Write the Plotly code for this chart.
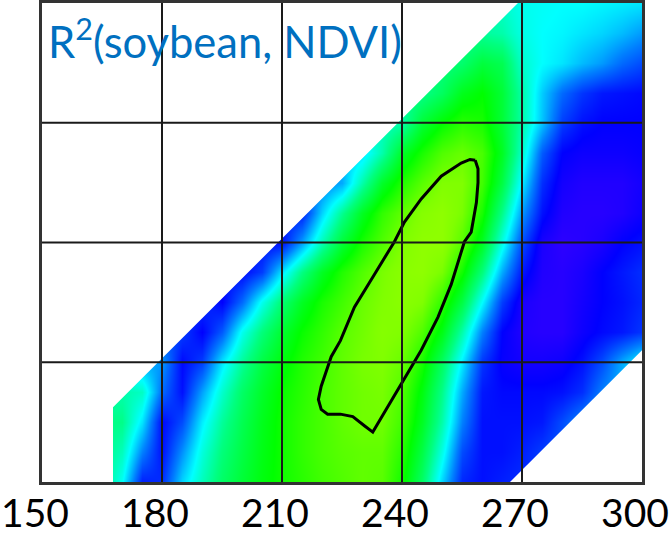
import plotly.graph_objects as go

# ---- data ----
X_DAYS = [165, 170, 175, 180, 185, 190, 195, 200, 205, 210, 215, 220, 225, 230,
          235, 240, 245, 250, 255, 260, 265, 270, 275, 280, 285, 290, 295, 300]
Y_DAYS = [0, 7.5, 15, 22.5, 30, 37.5, 45, 52.5, 60, 67.5, 75, 82.5, 90, 97.5, 105, 112.5, 120]
N = None
# R^2 (colour-scale units, 0-100) on the grid above; None = outside the computed window
R2 = [
    [55, 41, 12, 14, 35, 48, 59, 66, 72, 76, 79, 82, 84, 86, 85, 76, 59, 35, 13, 10, 12, 14, 16, 18, N, N, N, N],
    [55, 48, 25, 10, 27, 44, 56, 64, 71, 76, 80, 83, 85, 86, 86, 79, 64, 43, 18, 10, 10, 12, 16, 20, 22, N, N, N],
    [55, 54, 37, 9, 18, 38, 52, 62, 70, 76, 80, 83, 86, 88, 88, 82, 69, 50, 25, 10, 10, 10, 11, 18, 26, 30, 32, N],
    [50, 50, 47, 22, 10, 29, 46, 59, 68, 75, 79, 83, 86, 88, 89, 84, 72, 54, 30, 11, 9, 9, 9, 10, 14, 25, 32, 35],
    [N, 30, 30, 28, 9, 16, 37, 52, 64, 72, 78, 82, 86, 89, 90, 87, 77, 60, 38, 15, 7, 5, 5, 6, 10, 18, 30, 40],
    [N, N, N, 20, 16, 8, 20, 42, 56, 67, 75, 80, 85, 88, 91, 90, 84, 71, 50, 25, 8, 3, 2, 2, 6, 9, 11, 15],
    [N, N, N, N, 15, 15, 8, 22, 42, 57, 69, 77, 82, 87, 90, 92, 90, 80, 64, 40, 16, 4, 2, 2, 5, 8, 10, 13],
    [N, N, N, N, N, N, 10, 9, 16, 37, 55, 69, 78, 84, 89, 92, 93, 89, 76, 56, 30, 11, 3, 2, 4, 8, 11, 14],
    [N, N, N, N, N, N, N, 8, 10, 10, 29, 49, 66, 77, 84, 90, 93, 93, 85, 69, 43, 18, 4, 1, 2, 4, 8, 10],
    [N, N, N, N, N, N, N, N, N, 12, 12, 35, 53, 69, 80, 86, 91, 93, 89, 77, 54, 28, 10, 3, 2, 2, 3, 6],
    [N, N, N, N, N, N, N, N, N, N, 20, 25, 30, 50, 68, 78, 85, 90, 90, 82, 64, 38, 14, 5, 3, 3, 3, 5],
    [N, N, N, N, N, N, N, N, N, N, N, N, 33, 36, 50, 68, 77, 84, 87, 83, 69, 46, 20, 8, 6, 6, 6, 7],
    [N, N, N, N, N, N, N, N, N, N, N, N, N, 45, 47, 50, 66, 74, 79, 77, 66, 50, 33, 16, 10, 8, 8, 8],
    [N, N, N, N, N, N, N, N, N, N, N, N, N, N, N, 52, 54, 60, 70, 74, 66, 50, 34, 22, 15, 11, 10, 9],
    [N, N, N, N, N, N, N, N, N, N, N, N, N, N, N, N, 52, 55, 58, 65, 62, 46, 40, 37, 32, 28, 22, 18],
    [N, N, N, N, N, N, N, N, N, N, N, N, N, N, N, N, N, N, 52, 52, 50, 43, 40, 39, 37, 35, 32, 28],
    [N, N, N, N, N, N, N, N, N, N, N, N, N, N, N, N, N, N, N, 48, 46, 42, 41, 40, 40, 39, 38, 37],
]

# valid window: DIAG_MIN <= x - y <= DIAG_MAX and x >= X_START
DIAG_MIN = 149
DIAG_MAX = 267
X_START = 167.75

# significance contour outline
CONTOUR_X = [258.3, 259.0, 259.0, 258.6, 257.3, 255.6, 252.3, 249.0, 244.8, 241.4, 237.3,
             232.7, 230.6, 227.7, 224.6, 221.4, 219.8, 219.1, 219.8, 222.3, 224.6, 228.1,
             233.1, 238.1, 240.6, 244.8, 249.8, 254.8, 257.0, 258.3]
CONTOUR_Y = [80.6, 78.5, 75.0, 70.0, 62.6, 60.2, 49.5, 41.3, 33.0, 27.3, 20.5,
             12.5, 14.1, 16.4, 17.0, 17.0, 18.2, 20.7, 24.0, 31.4, 35.4, 43.8,
             52.0, 60.2, 65.1, 70.9, 76.6, 79.9, 80.8, 80.6]

X_TICKS = [150, 180, 210, 240, 270, 300]
Y_TICKS = [0, 30, 60, 90, 120]
X_RANGE = [150, 300]
Y_RANGE = [0, 120]
TITLE = "R<sup>2</sup>(soybean, NDVI)"

COLORSCALE = [
    [0.00, "#3300ff"],
    [0.08, "#0000ff"],
    [0.25, "#0080ff"],
    [0.40, "#00ffff"],
    [0.55, "#00ff80"],
    [0.74, "#00ff00"],
    [0.90, "#80ff00"],
    [1.00, "#b0ff00"],
]

fig = go.Figure()
fig.add_trace(go.Heatmap(x=X_DAYS, y=Y_DAYS, z=R2, zsmooth="best", colorscale=COLORSCALE,
                         zmin=0, zmax=100, showscale=False, hoverinfo="skip"))

# white masks outside the valid window
pad = 10
ul_x = [X_RANGE[0] - pad, X_START, X_START, Y_RANGE[1] + pad + DIAG_MIN, X_RANGE[0] - pad]
ul_y = [Y_RANGE[0] - pad, Y_RANGE[0] - pad, X_START - DIAG_MIN, Y_RANGE[1] + pad, Y_RANGE[1] + pad]
lr_x = [Y_RANGE[0] - pad + DIAG_MAX, X_RANGE[1] + pad, X_RANGE[1] + pad]
lr_y = [Y_RANGE[0] - pad, Y_RANGE[0] - pad, X_RANGE[1] + pad - DIAG_MAX]
for mx, my in [(ul_x, ul_y), (lr_x, lr_y)]:
    fig.add_trace(go.Scatter(x=mx, y=my, fill="toself", fillcolor="white", mode="lines",
                             line=dict(width=0, color="white"), hoverinfo="skip", showlegend=False))

fig.add_trace(go.Scatter(x=CONTOUR_X, y=CONTOUR_Y, mode="lines",
                         line=dict(color="black", width=3), hoverinfo="skip", showlegend=False))

shapes = []
for xv in X_TICKS[1:-1]:
    shapes.append(dict(type="line", xref="x", yref="paper", x0=xv, x1=xv, y0=0, y1=1,
                       line=dict(color="#1a1a1a", width=2), layer="above"))
for yv in Y_TICKS[1:-1]:
    shapes.append(dict(type="line", xref="paper", yref="y", x0=0, x1=1, y0=yv, y1=yv,
                       line=dict(color="#1a1a1a", width=2), layer="above"))

fig.update_layout(
    width=669, height=540,
    margin=dict(l=42, r=27, t=3, b=58, autoexpand=False),
    paper_bgcolor="white", plot_bgcolor="white",
    showlegend=False,
    shapes=shapes,
    xaxis=dict(range=X_RANGE, tickvals=X_TICKS, ticktext=[str(t) for t in X_TICKS],
               showgrid=False, zeroline=False, ticks="", showline=True, mirror=True,
               linecolor="#333333", linewidth=2.5, automargin=False,
               ticklabelshift=-7, ticklabelstandoff=-5, ticklabeloverflow="allow",
               tickfont=dict(family="Lato", size=39, color="black")),
    yaxis=dict(range=Y_RANGE, tickvals=Y_TICKS, showticklabels=False, showgrid=False,
               zeroline=False, ticks="", showline=True, mirror=True, automargin=False,
               linecolor="#333333", linewidth=2.5),
    annotations=[dict(text=TITLE, xref="paper", yref="paper", x=0.007, y=0.99,
                      xanchor="left", yanchor="top", showarrow=False,
                      font=dict(family="Lato", size=43.5, color="#0070C0"))],
)

fig.write_html("out.html")
